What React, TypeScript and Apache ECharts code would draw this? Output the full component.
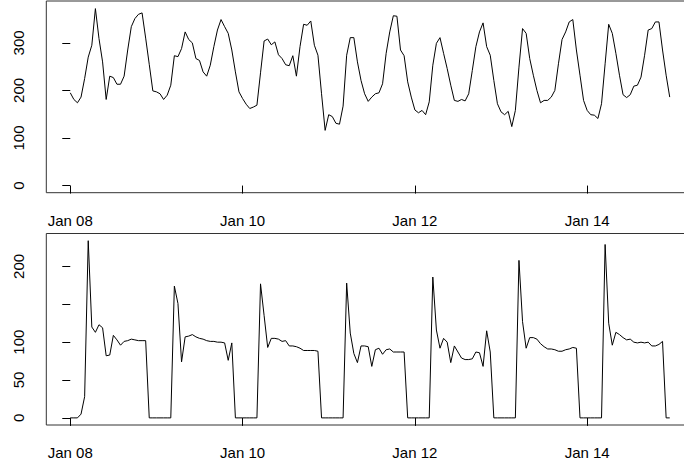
import { useEffect, useRef } from "react";
import * as echarts from "echarts";

// Hourly observations starting Jan 08 00:00 (hour offsets 0..167)
const topValues = [
  195, 181, 174, 186, 225, 270, 295, 372, 309, 260, 181, 230, 227, 213, 213, 230, 285, 334, 351, 360, 363, 310, 255, 199,
  197, 193, 181, 190, 211, 273, 271, 288, 323, 307, 300, 267, 263, 239, 230, 253, 292, 327, 349, 334, 320, 285, 239, 197,
  183, 171, 162, 165, 169, 237, 304, 308, 296, 302, 275, 267, 254, 252, 273, 230, 292, 339, 337, 346, 295, 274, 193, 116,
  149, 145, 131, 129, 167, 274, 311, 311, 260, 221, 193, 177, 186, 193, 195, 214, 278, 323, 357, 356, 285, 273, 218, 186,
  159, 153, 158, 149, 176, 253, 299, 311, 278, 246, 211, 179, 177, 181, 178, 193, 242, 292, 323, 342, 292, 274, 221, 172,
  155, 149, 156, 124, 158, 249, 330, 320, 267, 232, 200, 174, 179, 179, 186, 200, 256, 307, 323, 344, 349, 285, 232, 179,
  158, 149, 148, 141, 172, 256, 339, 320, 278, 232, 191, 185, 191, 209, 211, 228, 274, 327, 330, 344, 344, 285, 232, 186,
];

const bottomValues = [
  0, 0, 0, 5, 28, 234, 120, 113, 123, 119, 82, 83, 109, 103, 96, 101, 102, 104, 103, 102, 102, 102, 0, 0,
  0, 0, 0, 0, 0, 174, 151, 74, 107, 108, 110, 107, 105, 104, 102, 101, 101, 100, 100, 99, 76, 99, 0, 0,
  0, 0, 0, 0, 0, 177, 135, 93, 105, 105, 104, 101, 102, 95, 95, 94, 92, 89, 89, 89, 89, 88, 0, 0,
  0, 0, 0, 0, 0, 178, 112, 85, 73, 95, 95, 94, 68, 90, 92, 84, 90, 91, 87, 87, 87, 87, 0, 0,
  0, 0, 0, 0, 0, 186, 116, 92, 105, 100, 73, 95, 87, 79, 77, 77, 78, 87, 86, 68, 115, 87, 0, 0,
  0, 0, 0, 0, 0, 208, 127, 92, 106, 106, 104, 98, 94, 91, 91, 90, 88, 88, 90, 91, 93, 92, 0, 0,
  0, 0, 0, 0, 0, 229, 125, 96, 113, 110, 106, 103, 104, 100, 99, 100, 99, 100, 95, 95, 97, 101, 0, 0,
];

const tickHours = [0, 48, 96, 144];
const tickLabels = ["Jan 08", "Jan 10", "Jan 12", "Jan 14"];
const topTicks = [0, 100, 200, 300];
const bottomTicks = [0, 50, 100, 150, 200];
const bottomLabels = [0, 50, 100, 200];

const FONT = '"Liberation Sans", Arial, Helvetica, sans-serif';

export default function App() {
  const ref = useRef<HTMLDivElement>(null);

  useEffect(() => {
    if (!ref.current) return;
    const chart = echarts.init(ref.current, undefined, { renderer: "svg" });

    const xAxisFor = (gridIndex: number) => ({
      type: "value",
      gridIndex,
      min: -6.68,
      max: 173.68,
      axisLine: { show: false },
      splitLine: { show: false },
      axisTick: {
        show: true,
        customValues: tickHours,
        length: 8,
        lineStyle: { color: "#000", width: 1 },
      },
      axisLabel: {
        customValues: tickHours,
        formatter: (v: number) => tickLabels[tickHours.indexOf(Math.round(v))] ?? "",
        margin: 20,
        fontSize: 15,
        color: "#000",
        fontFamily: FONT,
      },
    });

    const yAxisFor = (gridIndex: number, min: number, max: number, ticks: number[], labels: number[]) => ({
      type: "value",
      gridIndex,
      min,
      max,
      axisLine: { show: false },
      splitLine: { show: false },
      axisTick: {
        show: true,
        customValues: ticks,
        length: 8,
        lineStyle: { color: "#000", width: 1 },
      },
      axisLabel: {
        customValues: labels,
        rotate: 90,
        margin: 20,
        fontSize: 15,
        color: "#000",
        fontFamily: FONT,
      },
    });

    chart.setOption({
      animation: false,
      backgroundColor: "#fff",
      grid: [
        { left: 46.3, top: 1, width: 647.4, height: 191.7, show: true, borderColor: "#333", borderWidth: 1, backgroundColor: "transparent" },
        { left: 46.3, top: 233.5, width: 647.4, height: 191.5, show: true, borderColor: "#333", borderWidth: 1, backgroundColor: "transparent" },
      ],
      xAxis: [xAxisFor(0), xAxisFor(1)],
      yAxis: [
        yAxisFor(0, -15, 388, topTicks, topTicks),
        yAxisFor(1, -9.4, 243.5, bottomTicks, bottomLabels),
      ],
      series: [
        {
          type: "line",
          xAxisIndex: 0,
          yAxisIndex: 0,
          showSymbol: false,
          symbol: "none",
          lineStyle: { color: "#000", width: 1 },
          data: topValues.map((v, i) => [i, v]),
        },
        {
          type: "line",
          xAxisIndex: 1,
          yAxisIndex: 1,
          showSymbol: false,
          symbol: "none",
          lineStyle: { color: "#000", width: 1 },
          data: bottomValues.map((v, i) => [i, v]),
        },
      ],
    });

    return () => chart.dispose();
  }, []);

  return (
    <div
      style={{ position: "fixed", left: 0, top: 0, width: 684, height: 468, overflow: "hidden", background: "#fff" }}
    >
      <div ref={ref} style={{ width: 710, height: 468 }} />
    </div>
  );
}
